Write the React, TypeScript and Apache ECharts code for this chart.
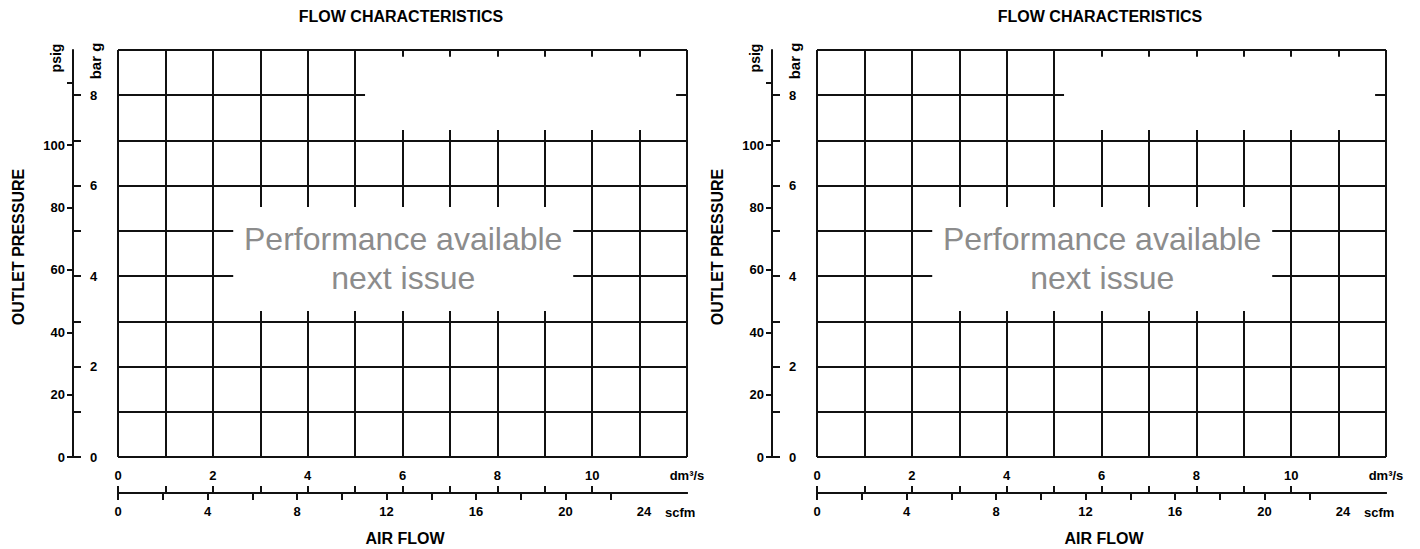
import React, { useEffect, useRef } from "react";
import * as echarts from "echarts";

// ---- scales / tick data ----
const BAR_PER_PSI = 0.0689476;
const DM3S_PER_SCFM = 0.4719;
const FLOW_MAX_DM3S = 12;
const PRESSURE_MAX_BAR = 9;

const DM3S_TICKS = [0, 1, 2, 3, 4, 5, 6, 7, 8, 9, 10];
const DM3S_LABELS = [0, 2, 4, 6, 8, 10];
const SCFM_TICKS = [0, 2, 4, 6, 8, 10, 12, 14, 16, 18, 20, 22];
const SCFM_LABELS = [0, 4, 8, 12, 16, 20, 24];
const PSIG_TICKS = [0, 20, 40, 60, 80, 100, 120];
const PSIG_LABELS = [0, 20, 40, 60, 80, 100];
const BAR_TICKS = [0, 1, 2, 3, 4, 5, 6, 7, 8];
const BAR_LABELS = [0, 2, 4, 6, 8];

// masked (blank) regions of the grid, in axis units [x0, y0, x1, y1]
const NOTICE_BOX = [2.43, 3.23, 9.6, 5.53];
const EMPTY_BOX = [5.21, 7.23, 11.77, 8.85];
const NOTICE_TEXT = "Performance available\nnext issue";

const PANEL_OFFSETS = [0, 699];

const LINE = "#111";
const FONT = '"Liberation Sans", Arial, Helvetica, sans-serif';

function buildOption() {
  const grid: any[] = [];
  const xAxis: any[] = [];
  const yAxis: any[] = [];
  const series: any[] = [];
  const graphic: any[] = [];

  const lbl = {
    fontSize: 13,
    fontWeight: "bold",
    color: "#000",
    fontFamily: FONT,
  };
  const lineStyle = { color: LINE, width: 2 };

  PANEL_OFFSETS.forEach((o) => {
    const g = grid.length;
    grid.push({ left: o + 118, top: 50, width: 569, height: 407 });
    grid.push({ left: o + 73, top: 50, width: 20, height: 407 });
    grid.push({ left: o + 118, top: 492, width: 569, height: 1 });
    const xb = xAxis.length;
    const yb = yAxis.length;

    // main grid axes
    xAxis.push({
      type: "value",
      gridIndex: g,
      min: 0,
      max: FLOW_MAX_DM3S,
      interval: 1,
      axisLine: { show: false },
      axisTick: { show: false },
      axisLabel: { show: false },
      splitLine: { show: true, showMinLine: true, showMaxLine: true, lineStyle },
    });
    yAxis.push({
      type: "value",
      gridIndex: g,
      min: 0,
      max: PRESSURE_MAX_BAR,
      interval: 1,
      axisLine: { show: false },
      axisTick: { show: false },
      axisLabel: { show: false },
      splitLine: { show: true, showMinLine: true, showMaxLine: true, lineStyle },
    });

    // left pressure scales
    xAxis.push({ type: "value", gridIndex: g + 1, show: false });
    yAxis.push({
      type: "value",
      gridIndex: g + 1,
      position: "left",
      min: 0,
      max: PRESSURE_MAX_BAR / BAR_PER_PSI,
      axisLine: { show: true, lineStyle },
      axisTick: { show: true, length: 6, customValues: PSIG_TICKS, lineStyle },
      axisLabel: { ...lbl, show: true, margin: 8, customValues: PSIG_LABELS },
      splitLine: { show: false },
    });
    yAxis.push({
      type: "value",
      gridIndex: g + 1,
      position: "left",
      min: 0,
      max: PRESSURE_MAX_BAR,
      axisLine: { show: false },
      axisTick: { show: true, inside: true, length: 8, customValues: BAR_TICKS, lineStyle },
      axisLabel: { ...lbl, show: true, inside: true, margin: 17, customValues: BAR_LABELS },
      splitLine: { show: false },
    });

    // bottom flow scales
    xAxis.push({
      type: "value",
      gridIndex: g + 2,
      position: "top",
      min: 0,
      max: FLOW_MAX_DM3S,
      axisLine: { show: true, lineStyle },
      axisTick: { show: true, length: 7, customValues: DM3S_TICKS, lineStyle },
      axisLabel: {
        ...lbl,
        show: true,
        margin: 10,
        customValues: [...DM3S_LABELS, FLOW_MAX_DM3S],
        formatter: (v: number) => (v === FLOW_MAX_DM3S ? "dm³/s" : String(v)),
      },
      splitLine: { show: false },
    });
    xAxis.push({
      type: "value",
      gridIndex: g + 2,
      position: "bottom",
      min: 0,
      max: FLOW_MAX_DM3S / DM3S_PER_SCFM,
      axisLine: { show: true, lineStyle },
      axisTick: { show: true, length: 7, customValues: SCFM_TICKS, lineStyle },
      axisLabel: {
        ...lbl,
        show: true,
        margin: 12,
        customValues: SCFM_LABELS,
        formatter: (v: number) => (v === 24 ? "{p|24}" : String(v)),
        rich: { p: { ...lbl, padding: [0, 22, 0, 0] } },
      },
      splitLine: { show: false },
    });
    yAxis.push({ type: "value", gridIndex: g + 2, show: false });

    series.push({
      type: "scatter",
      xAxisIndex: xb,
      yAxisIndex: yb,
      data: [],
      silent: true,
      markArea: {
        silent: true,
        data: [
          [
            {
              xAxis: NOTICE_BOX[0],
              yAxis: NOTICE_BOX[1],
              itemStyle: { color: "#fff", opacity: 1 },
              label: {
                show: true,
                position: "inside",
                formatter: NOTICE_TEXT,
                fontSize: 32,
                lineHeight: 39,
                color: "#8c8c8c",
                fontFamily: FONT,
                align: "center",
              },
            },
            { xAxis: NOTICE_BOX[2], yAxis: NOTICE_BOX[3] },
          ],
          [
            {
              xAxis: EMPTY_BOX[0],
              yAxis: EMPTY_BOX[1],
              itemStyle: { color: "#fff", opacity: 1 },
              label: { show: false },
            },
            { xAxis: EMPTY_BOX[2], yAxis: EMPTY_BOX[3] },
          ],
        ],
      },
    });

    const txt = (text: string, x: number, y: number, size: number, rot = 0, align = "center") => ({
      type: "text",
      x,
      y,
      rotation: rot,
      silent: true,
      style: {
        text,
        fontSize: size,
        fontWeight: "bold",
        fontFamily: FONT,
        fill: "#000",
        align,
        verticalAlign: "middle",
      },
    });
    graphic.push(txt("FLOW CHARACTERISTICS", o + 401, 16, 16));
    graphic.push(txt("OUTLET PRESSURE", o + 18, 247, 16, Math.PI / 2));
    graphic.push(txt("psig", o + 56, 58, 14, Math.PI / 2));
    graphic.push(txt("bar g", o + 95, 61, 15, Math.PI / 2));
    graphic.push(txt("AIR FLOW", o + 405, 538, 16));
    graphic.push(txt("scfm", o + 665, 512, 13, 0, "left"));
  });

  return {
    animation: false,
    backgroundColor: "#fff",
    grid,
    xAxis,
    yAxis,
    series,
    graphic,
  };
}

export default function App() {
  const ref = useRef<HTMLDivElement>(null);
  useEffect(() => {
    document.body.style.margin = "0";
    if (!ref.current) return;
    const chart = echarts.init(ref.current, undefined, { renderer: "svg" });
    chart.setOption(buildOption() as any);
    return () => chart.dispose();
  }, []);
  return <div ref={ref} style={{ width: 1420, height: 549 }} />;
}
